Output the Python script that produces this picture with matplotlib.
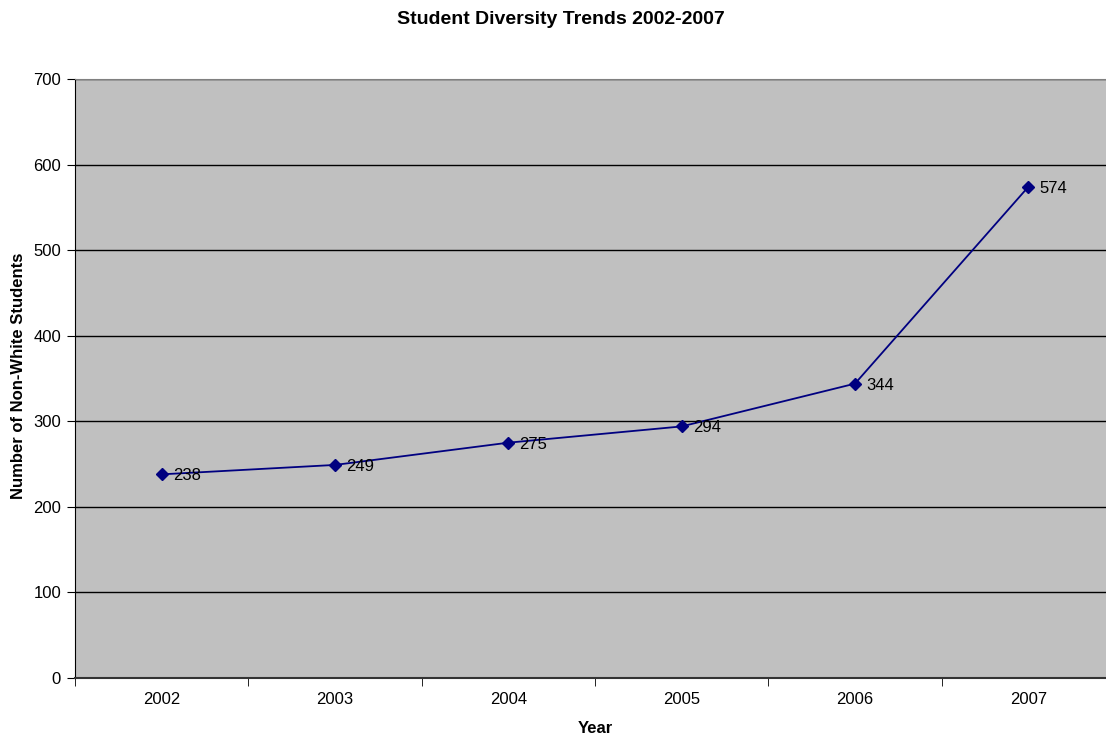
import matplotlib
matplotlib.use("Agg")
import matplotlib.pyplot as plt

plt.rcParams['font.family'] = ['Liberation Sans', 'DejaVu Sans']

years = ["2002", "2003", "2004", "2005", "2006", "2007"]
students = [238, 249, 275, 294, 344, 574]
y_ticks = [0, 100, 200, 300, 400, 500, 600, 700]

fig = plt.figure(figsize=(11.06, 7.38), dpi=100)
W, H = 1106, 738
left, right, top, bottom = 75, 1115, 79, 678
ax = fig.add_axes([left / W, (H - bottom) / H, (right - left) / W, (bottom - top) / H])
ax.set_facecolor('#C0C0C0')

x = list(range(len(years)))
ax.plot(x, students, color='#000080', linewidth=1.3, marker='D', markersize=6,
        markerfacecolor='#000080', markeredgecolor='#000080', zorder=3)
for xi, v in zip(x, students):
    ax.annotate(str(v), (xi, v), xytext=(8, -1), textcoords='offset points',
                va='center', ha='left', fontsize=12, color='black', zorder=4)

ax.set_xlim(-0.5, len(years) - 0.5)
ax.set_ylim(0, 700)
ax.set_yticks(y_ticks)
ax.set_yticklabels([str(t) for t in y_ticks], fontsize=12)
ax.set_xticks(x)
ax.set_xticklabels(years, fontsize=12)
ax.tick_params(axis='x', length=0, pad=10)
ax.set_xticks([i + 0.5 for i in range(-1, len(years))], minor=True)
ax.tick_params(axis='x', which='minor', length=6, direction='out', color='black')
ax.tick_params(axis='y', length=6, direction='out', color='black', pad=4)

ax.grid(axis='y', color='black', linewidth=1.0)
ax.set_axisbelow(True)
ax.spines['right'].set_visible(False)
ax.spines['top'].set_color('#808080')
ax.spines['left'].set_color('black')
ax.spines['bottom'].set_color('#333333')
ax.spines['bottom'].set_linewidth(1.5)

ax.set_xlabel('Year', fontsize=12, fontweight='bold', labelpad=10)
fig.text(19 / W, 1 - 376 / H, 'Number of Non-White Students', rotation=90,
         ha='center', va='center', fontsize=12, fontweight='bold')
fig.text(561 / W, 1 - 20 / H, 'Student Diversity Trends 2002-2007', ha='center', va='center',
         fontsize=14, fontweight='bold')

fig.savefig('out.png', dpi=100)
